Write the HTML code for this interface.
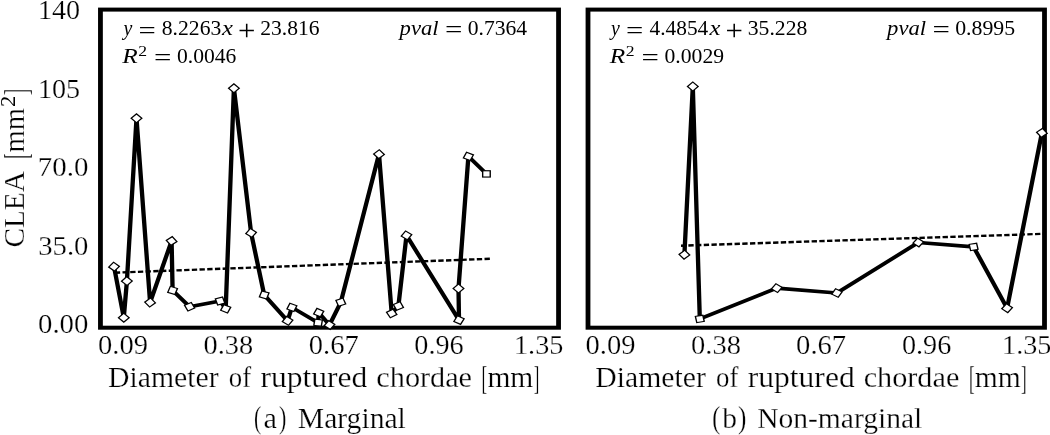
<!DOCTYPE html><html><head><meta charset="utf-8"><title>CLEA vs diameter</title><style>html,body{margin:0;padding:0;background:#fff;}svg{display:block;}text{font-family:"Liberation Serif", "DejaVu Serif", serif;fill:#000;stroke:#fff;stroke-width:0.25px;paint-order:normal;}text.a{stroke:none;}</style></head><body>
<svg width="1050" height="435" viewBox="0 0 1050 435">
<rect width="1050" height="435" fill="#fff"/>
<g transform="scale(1.2,1)">
<rect x="83.708" y="9.6" width="381.750" height="318.09999999999997" fill="none" stroke="#000" stroke-width="4.0"/>
<rect x="490.000" y="9.6" width="380.417" height="318.09999999999997" fill="none" stroke="#000" stroke-width="4.0"/>
<line x1="95.417" y1="272.7" x2="408.333" y2="258.8" stroke="#000" stroke-width="2.4" stroke-dasharray="4.45 1.975" stroke-dashoffset="-0.25"/>
<line x1="567.500" y1="245.7" x2="870.000" y2="233.8" stroke="#000" stroke-width="2.4" stroke-dasharray="4.45 1.975" stroke-dashoffset="0.3"/>
<polyline points="95.042,266.70 103.167,317.70 105.750,281.10 113.750,118.30 125.083,302.50 143.000,241.00 143.833,290.40 158.000,306.70 183.417,301.00 188.083,308.80 194.917,88.30 209.250,232.90 220.167,294.90 239.667,320.80 243.250,307.40 265.083,322.70 265.583,312.60 274.583,325.00 284.000,302.20 315.833,154.20 326.417,313.40 332.000,306.00 338.750,235.40 382.500,320.10 382.083,288.50 390.333,156.40 405.375,173.90" fill="none" stroke="#000" stroke-width="3.6" stroke-linejoin="round" stroke-linecap="butt"/>
<polyline points="570.333,254.70 577.333,86.50 583.167,318.90 647.292,288.10 697.417,293.00 765.250,242.50 811.333,246.90 839.250,308.20 868.250,132.80" fill="none" stroke="#000" stroke-width="3.6" stroke-linejoin="round" stroke-linecap="butt"/>
<rect x="-3.15" y="-3.15" width="6.3" height="6.3" transform="translate(95.042,266.70) rotate(40)" fill="#fff" stroke="#000" stroke-width="1.15"/>
<rect x="-3.15" y="-3.15" width="6.3" height="6.3" transform="translate(103.167,317.70) rotate(45)" fill="#fff" stroke="#000" stroke-width="1.15"/>
<rect x="-3.15" y="-3.15" width="6.3" height="6.3" transform="translate(105.750,281.10) rotate(43)" fill="#fff" stroke="#000" stroke-width="1.15"/>
<rect x="-3.15" y="-3.15" width="6.3" height="6.3" transform="translate(113.750,118.30) rotate(45)" fill="#fff" stroke="#000" stroke-width="1.15"/>
<rect x="-3.15" y="-3.15" width="6.3" height="6.3" transform="translate(125.083,302.50) rotate(50)" fill="#fff" stroke="#000" stroke-width="1.15"/>
<rect x="-3.15" y="-3.15" width="6.3" height="6.3" transform="translate(143.000,241.00) rotate(52)" fill="#fff" stroke="#000" stroke-width="1.15"/>
<rect x="-3.15" y="-3.15" width="6.3" height="6.3" transform="translate(143.833,290.40) rotate(20)" fill="#fff" stroke="#000" stroke-width="1.15"/>
<rect x="-3.15" y="-3.15" width="6.3" height="6.3" transform="translate(158.000,306.70) rotate(63)" fill="#fff" stroke="#000" stroke-width="1.15"/>
<rect x="-3.15" y="-3.15" width="6.3" height="6.3" transform="translate(183.417,301.00) rotate(-18)" fill="#fff" stroke="#000" stroke-width="1.15"/>
<rect x="-3.15" y="-3.15" width="6.3" height="6.3" transform="translate(188.083,308.80) rotate(25)" fill="#fff" stroke="#000" stroke-width="1.15"/>
<rect x="-3.15" y="-3.15" width="6.3" height="6.3" transform="translate(194.917,88.30) rotate(45)" fill="#fff" stroke="#000" stroke-width="1.15"/>
<rect x="-3.15" y="-3.15" width="6.3" height="6.3" transform="translate(209.250,232.90) rotate(37)" fill="#fff" stroke="#000" stroke-width="1.15"/>
<rect x="-3.15" y="-3.15" width="6.3" height="6.3" transform="translate(220.167,294.90) rotate(19)" fill="#fff" stroke="#000" stroke-width="1.15"/>
<rect x="-3.15" y="-3.15" width="6.3" height="6.3" transform="translate(239.667,320.80) rotate(35)" fill="#fff" stroke="#000" stroke-width="1.15"/>
<rect x="-3.15" y="-3.15" width="6.3" height="6.3" transform="translate(243.250,307.40) rotate(23)" fill="#fff" stroke="#000" stroke-width="1.15"/>
<rect x="-3.15" y="-3.15" width="6.3" height="6.3" transform="translate(265.083,322.70) rotate(8)" fill="#fff" stroke="#000" stroke-width="1.15"/>
<rect x="-3.15" y="-3.15" width="6.3" height="6.3" transform="translate(265.583,312.60) rotate(26)" fill="#fff" stroke="#000" stroke-width="1.15"/>
<rect x="-3.15" y="-3.15" width="6.3" height="6.3" transform="translate(274.583,325.00) rotate(37)" fill="#fff" stroke="#000" stroke-width="1.15"/>
<rect x="-3.15" y="-3.15" width="6.3" height="6.3" transform="translate(284.000,302.20) rotate(-21)" fill="#fff" stroke="#000" stroke-width="1.15"/>
<rect x="-3.15" y="-3.15" width="6.3" height="6.3" transform="translate(315.833,154.20) rotate(48)" fill="#fff" stroke="#000" stroke-width="1.15"/>
<rect x="-3.15" y="-3.15" width="6.3" height="6.3" transform="translate(326.417,313.40) rotate(-30)" fill="#fff" stroke="#000" stroke-width="1.15"/>
<rect x="-3.15" y="-3.15" width="6.3" height="6.3" transform="translate(332.000,306.00) rotate(-26)" fill="#fff" stroke="#000" stroke-width="1.15"/>
<rect x="-3.15" y="-3.15" width="6.3" height="6.3" transform="translate(338.750,235.40) rotate(35)" fill="#fff" stroke="#000" stroke-width="1.15"/>
<rect x="-3.15" y="-3.15" width="6.3" height="6.3" transform="translate(382.500,320.10) rotate(28)" fill="#fff" stroke="#000" stroke-width="1.15"/>
<rect x="-3.15" y="-3.15" width="6.3" height="6.3" transform="translate(382.083,288.50) rotate(45)" fill="#fff" stroke="#000" stroke-width="1.15"/>
<rect x="-3.15" y="-3.15" width="6.3" height="6.3" transform="translate(390.333,156.40) rotate(25)" fill="#fff" stroke="#000" stroke-width="1.15"/>
<rect x="-3.15" y="-3.15" width="6.3" height="6.3" transform="translate(405.375,173.90) rotate(0)" fill="#fff" stroke="#000" stroke-width="1.15"/>
<rect x="-3.15" y="-3.15" width="6.3" height="6.3" transform="translate(570.333,254.70) rotate(49)" fill="#fff" stroke="#000" stroke-width="1.15"/>
<rect x="-3.15" y="-3.15" width="6.3" height="6.3" transform="translate(577.333,86.50) rotate(45)" fill="#fff" stroke="#000" stroke-width="1.15"/>
<rect x="-3.15" y="-3.15" width="6.3" height="6.3" transform="translate(583.167,318.90) rotate(-11)" fill="#fff" stroke="#000" stroke-width="1.15"/>
<rect x="-3.15" y="-3.15" width="6.3" height="6.3" transform="translate(647.292,288.10) rotate(36)" fill="#fff" stroke="#000" stroke-width="1.15"/>
<rect x="-3.15" y="-3.15" width="6.3" height="6.3" transform="translate(697.417,293.00) rotate(31)" fill="#fff" stroke="#000" stroke-width="1.15"/>
<rect x="-3.15" y="-3.15" width="6.3" height="6.3" transform="translate(765.250,242.50) rotate(38)" fill="#fff" stroke="#000" stroke-width="1.15"/>
<rect x="-3.15" y="-3.15" width="6.3" height="6.3" transform="translate(811.333,246.90) rotate(-11)" fill="#fff" stroke="#000" stroke-width="1.15"/>
<rect x="-3.15" y="-3.15" width="6.3" height="6.3" transform="translate(839.250,308.20) rotate(38)" fill="#fff" stroke="#000" stroke-width="1.15"/>
<rect x="-3.15" y="-3.15" width="6.3" height="6.3" transform="translate(868.250,132.80) rotate(52)" fill="#fff" stroke="#000" stroke-width="1.15"/>
</g>
<text transform="translate(40.50,19.30) scale(1.0092,1.0000) translate(-2.50,0)" font-size="27.9"><tspan>140</tspan></text>
<text transform="translate(40.50,97.80) scale(1.0092,1.0000) translate(-2.50,0)" font-size="27.9"><tspan>105</tspan></text>
<text transform="translate(39.65,176.30) scale(1.0359,1.0000) translate(-1.75,0)" font-size="27.9"><tspan>70.0</tspan></text>
<text transform="translate(39.50,254.80) scale(1.0280,1.0000) translate(-1.25,0)" font-size="27.9"><tspan>35.0</tspan></text>
<text transform="translate(39.00,333.30) scale(1.0332,1.0000) translate(-1.00,0)" font-size="27.9"><tspan>0.00</tspan></text>
<text transform="translate(99.00,354.30) scale(1.0246,1.0000) translate(-1.00,0)" font-size="27.9"><tspan>0.09</tspan></text>
<text transform="translate(204.60,354.30) scale(1.0160,1.0000) translate(-1.00,0)" font-size="27.9"><tspan>0.38</tspan></text>
<text transform="translate(309.80,354.30) scale(1.0234,1.0000) translate(-1.00,0)" font-size="27.9"><tspan>0.67</tspan></text>
<text transform="translate(415.30,354.30) scale(1.0128,1.0000) translate(-1.00,0)" font-size="27.9"><tspan>0.96</tspan></text>
<text transform="translate(516.50,354.30) scale(1.0122,1.0000) translate(-2.50,0)" font-size="27.9"><tspan>1.35</tspan></text>
<text transform="translate(586.60,354.30) scale(1.0246,1.0000) translate(-1.00,0)" font-size="27.9"><tspan>0.09</tspan></text>
<text transform="translate(692.10,354.30) scale(1.0225,1.0000) translate(-1.00,0)" font-size="27.9"><tspan>0.38</tspan></text>
<text transform="translate(797.10,354.30) scale(1.0255,1.0000) translate(-1.00,0)" font-size="27.9"><tspan>0.67</tspan></text>
<text transform="translate(902.90,354.30) scale(1.0128,1.0000) translate(-1.00,0)" font-size="27.9"><tspan>0.96</tspan></text>
<text transform="translate(1004.60,354.30) scale(1.0099,1.0000) translate(-2.50,0)" font-size="27.9"><tspan>1.35</tspan></text>
<text transform="translate(108.80,386.90) scale(1.0429,1.0000) translate(-0.75,0)" font-size="28.5"><tspan>Diameter</tspan></text>
<text transform="translate(229.70,386.90) scale(0.9407,1.0000) translate(-1.00,0)" font-size="28.5"><tspan>of</tspan></text>
<text transform="translate(261.00,386.90) scale(1.1081,1.0000) translate(-0.50,0)" font-size="28.5"><tspan>ruptured</tspan></text>
<text transform="translate(377.40,386.90) scale(1.0618,1.0000) translate(-1.00,0)" font-size="28.5"><tspan>chordae</tspan></text>
<text transform="translate(482.80,389.30) scale(0.6000,1.2100) translate(-2.00,0)" font-size="28.5"><tspan>[</tspan></text>
<text transform="translate(487.90,386.90) scale(1.0368,1.0000) translate(-0.50,0)" font-size="28.5"><tspan>mm</tspan></text>
<text transform="translate(534.30,389.30) scale(0.5920,1.2100) translate(-1.00,0)" font-size="28.5"><tspan>]</tspan></text>
<text transform="translate(596.10,386.90) scale(1.0429,1.0000) translate(-0.75,0)" font-size="28.5"><tspan>Diameter</tspan></text>
<text transform="translate(717.00,386.90) scale(0.9407,1.0000) translate(-1.00,0)" font-size="28.5"><tspan>of</tspan></text>
<text transform="translate(748.30,386.90) scale(1.1081,1.0000) translate(-0.50,0)" font-size="28.5"><tspan>ruptured</tspan></text>
<text transform="translate(864.70,386.90) scale(1.0618,1.0000) translate(-1.00,0)" font-size="28.5"><tspan>chordae</tspan></text>
<text transform="translate(970.10,389.30) scale(0.6000,1.2100) translate(-2.00,0)" font-size="28.5"><tspan>[</tspan></text>
<text transform="translate(975.20,386.90) scale(1.0368,1.0000) translate(-0.50,0)" font-size="28.5"><tspan>mm</tspan></text>
<text transform="translate(1021.60,389.30) scale(0.5920,1.2100) translate(-1.00,0)" font-size="28.5"><tspan>]</tspan></text>
<text transform="translate(255.00,428.46) scale(0.7586,1.1100) translate(-1.25,0)" font-size="28.5"><tspan>(</tspan></text>
<text transform="translate(264.50,428.00) scale(1.0667,1.0000) translate(-1.00,0)" font-size="28.5"><tspan>a</tspan></text>
<text transform="translate(279.80,428.46) scale(0.7724,1.1100) translate(-1.00,0)" font-size="28.5"><tspan>)</tspan></text>
<text transform="translate(298.60,428.00) scale(1.0394,1.0000) translate(-0.75,0)" font-size="28.5"><tspan>Marginal</tspan></text>
<text transform="translate(713.40,428.46) scale(0.8414,1.1100) translate(-1.25,0)" font-size="28.5"><tspan>(</tspan></text>
<text transform="translate(722.30,428.00) scale(1.0340,1.0000) translate(-0.00,0)" font-size="28.5"><tspan>b</tspan></text>
<text transform="translate(738.80,428.46) scale(0.8828,1.1100) translate(-1.00,0)" font-size="28.5"><tspan>)</tspan></text>
<text transform="translate(758.00,428.00) scale(1.0361,1.0000) translate(-0.75,0)" font-size="28.5"><tspan>Non-marginal</tspan></text>
<text transform="translate(24.40,246.30) rotate(-90) scale(1.0274,1.0000) translate(-1.25,0)" font-size="28.5"><tspan>CLEA</tspan></text>
<text transform="translate(26.80,157.70) rotate(-90) scale(0.5692,1.2100) translate(-2.00,0)" font-size="28.5"><tspan>[</tspan></text>
<text transform="translate(24.40,151.90) rotate(-90) scale(1.0023,1.0000) translate(-0.50,0)" font-size="28.5"><tspan>mm</tspan></text>
<text transform="translate(26.80,94.50) rotate(-90) scale(0.7040,1.2100) translate(-1.00,0)" font-size="28.5"><tspan>]</tspan></text>
<text class="a" transform="translate(14.50,105.90) rotate(-90) scale(1.1375,1.0000) translate(-1.00,0)" font-size="20.0"><tspan>2</tspan></text>
<text class="a" transform="translate(121.70,35.20) scale(0.9674,1.0000) translate(1.75,0)" font-size="20.5"><tspan font-style="italic">y</tspan></text>
<text class="a" transform="translate(140.00,37.67) scale(1.4947,1.1460) translate(-1.00,0)" font-size="20.5"><tspan>=</tspan></text>
<text class="a" transform="translate(162.60,35.20) scale(1.0557,1.0000) translate(-0.75,0)" font-size="20.5"><tspan>8.2263</tspan></text>
<text class="a" transform="translate(221.70,35.20) scale(1.2000,1.0000) translate(0.25,0)" font-size="20.5"><tspan font-style="italic">x</tspan></text>
<text class="a" transform="translate(239.60,39.86) scale(1.5053,1.4570) translate(-1.00,0)" font-size="20.5"><tspan>+</tspan></text>
<text class="a" transform="translate(261.30,35.20) scale(1.0521,1.0000) translate(-1.00,0)" font-size="20.5"><tspan>23.816</tspan></text>
<text class="a" transform="translate(122.20,62.60) scale(1.2327,1.0000) translate(-0.00,0)" font-size="20.5"><tspan font-style="italic">R</tspan></text>
<text class="a" transform="translate(155.60,65.07) scale(1.5053,1.1460) translate(-1.00,0)" font-size="20.5"><tspan>=</tspan></text>
<text class="a" transform="translate(177.80,62.60) scale(1.0527,1.0000) translate(-0.75,0)" font-size="20.5"><tspan>0.0046</tspan></text>
<text class="a" transform="translate(139.20,55.50) scale(1.2364,1.0000) translate(-0.75,0)" font-size="14.3"><tspan>2</tspan></text>
<text class="a" transform="translate(398.20,35.00) scale(1.1056,1.0000) translate(1.25,0)" font-size="20.5"><tspan font-style="italic">pval</tspan></text>
<text class="a" transform="translate(446.40,37.47) scale(1.5053,1.1460) translate(-1.00,0)" font-size="20.5"><tspan>=</tspan></text>
<text class="a" transform="translate(468.50,35.00) scale(1.0552,1.0000) translate(-0.75,0)" font-size="20.5"><tspan>0.7364</tspan></text>
<text class="a" transform="translate(609.20,35.20) scale(0.9674,1.0000) translate(1.75,0)" font-size="20.5"><tspan font-style="italic">y</tspan></text>
<text class="a" transform="translate(627.50,37.67) scale(1.4947,1.1460) translate(-1.00,0)" font-size="20.5"><tspan>=</tspan></text>
<text class="a" transform="translate(650.10,35.20) scale(1.0414,1.0000) translate(-0.50,0)" font-size="20.5"><tspan>4.4854</tspan></text>
<text class="a" transform="translate(709.20,35.20) scale(1.2000,1.0000) translate(0.25,0)" font-size="20.5"><tspan font-style="italic">x</tspan></text>
<text class="a" transform="translate(727.10,39.86) scale(1.5053,1.4570) translate(-1.00,0)" font-size="20.5"><tspan>+</tspan></text>
<text class="a" transform="translate(748.80,35.20) scale(1.0569,1.0000) translate(-1.00,0)" font-size="20.5"><tspan>35.228</tspan></text>
<text class="a" transform="translate(609.70,62.60) scale(1.2327,1.0000) translate(-0.00,0)" font-size="20.5"><tspan font-style="italic">R</tspan></text>
<text class="a" transform="translate(643.10,65.07) scale(1.5053,1.1460) translate(-1.00,0)" font-size="20.5"><tspan>=</tspan></text>
<text class="a" transform="translate(665.30,62.60) scale(1.0575,1.0000) translate(-0.75,0)" font-size="20.5"><tspan>0.0029</tspan></text>
<text class="a" transform="translate(626.70,55.50) scale(1.2364,1.0000) translate(-0.75,0)" font-size="14.3"><tspan>2</tspan></text>
<text class="a" transform="translate(885.70,35.00) scale(1.1056,1.0000) translate(1.25,0)" font-size="20.5"><tspan font-style="italic">pval</tspan></text>
<text class="a" transform="translate(933.90,37.47) scale(1.5053,1.1460) translate(-1.00,0)" font-size="20.5"><tspan>=</tspan></text>
<text class="a" transform="translate(956.00,35.00) scale(1.0648,1.0000) translate(-0.75,0)" font-size="20.5"><tspan>0.8995</tspan></text>
</svg></body></html>
